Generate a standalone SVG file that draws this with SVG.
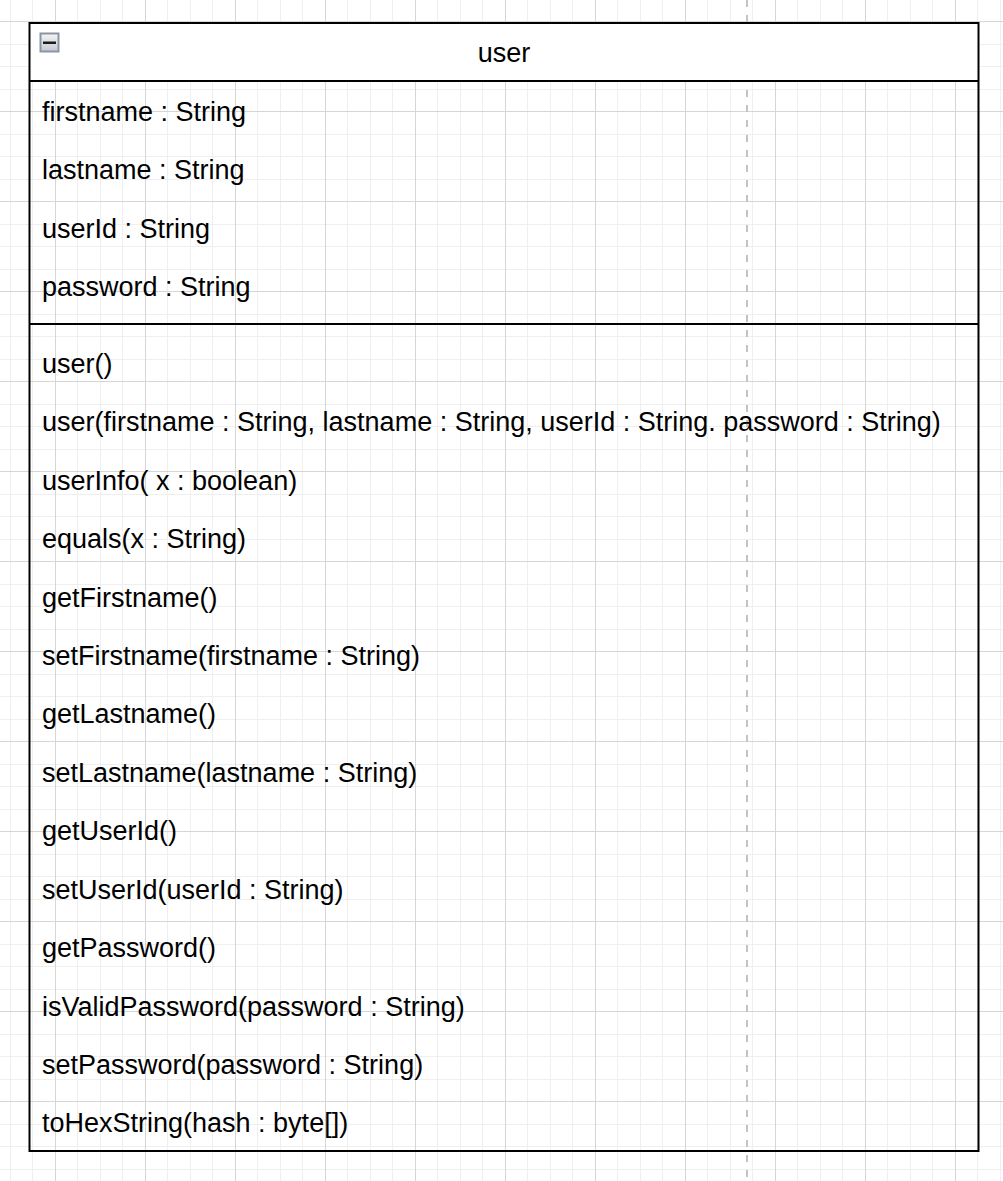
<svg xmlns="http://www.w3.org/2000/svg" width="1003" height="1181" viewBox="0 0 1003 1181">
  <defs>
    <pattern id="grid" patternUnits="userSpaceOnUse" x="55" y="21" width="90" height="90">
      <path d="M22.5 0V90M45.5 0V90M67.5 0V90M0 23.5H90M0 45.5H90M0 68.5H90" stroke="#efefef" stroke-width="1" fill="none"/>
      <path d="M0.5 0V90M0 0.5H90" stroke="#d6d6d6" stroke-width="1" fill="none"/>
    </pattern>
    <linearGradient id="iconFill" x1="0" y1="0" x2="0" y2="1">
      <stop offset="0" stop-color="#f4f5f7"/>
      <stop offset="1" stop-color="#c4c8cf"/>
    </linearGradient>
    <style>
      .t { font-family: "Liberation Sans", Arial, sans-serif; font-size: 27px; fill: #000; }
      .frame { fill: none; stroke: #000; stroke-width: 2; }
      .sep { stroke: #000; stroke-width: 2; }
    </style>
  </defs>
  <rect x="0" y="0" width="1003" height="1181" fill="#ffffff"/>
  <rect x="0" y="0" width="1003" height="1181" fill="url(#grid)"/>
  <line x1="747" y1="0" x2="747" y2="1181" stroke="#c3c3c3" stroke-width="2" stroke-dasharray="7 8"/>

  <g id="connectors"></g>

  <g id="user">
    <rect x="29.5" y="23" width="949" height="58" fill="#ffffff"/>
    <rect class="frame" x="29.5" y="23" width="949" height="1128"/>
    <line class="sep" x1="29.5" y1="81" x2="978.5" y2="81"/>
    <line class="sep" x1="29.5" y1="324" x2="978.5" y2="324"/>
    <g id="collapse-icon">
      <rect x="40.5" y="33.5" width="18" height="18" fill="url(#iconFill)" stroke="#8c95a3" stroke-width="2"/>
      <rect x="43" y="41.5" width="13" height="2.5" fill="#1a1a1a"/>
    </g>
    <text class="t" x="504" y="61.5" text-anchor="middle">user</text>
    <g id="attributes">
      <text class="t" x="42" y="120.8">firstname : String</text>
      <text class="t" x="42" y="179.3">lastname : String</text>
      <text class="t" x="42" y="237.8">userId : String</text>
      <text class="t" x="42" y="296.3">password : String</text>
    </g>
    <g id="methods">
      <text class="t" x="42" y="372.8">user()</text>
      <text class="t" x="42" y="431.2">user(firstname : String, lastname : String, userId : String. password : String)</text>
      <text class="t" x="42" y="489.7">userInfo( x : boolean)</text>
      <text class="t" x="42" y="548.1">equals(x : String)</text>
      <text class="t" x="42" y="606.5">getFirstname()</text>
      <text class="t" x="42" y="665.0">setFirstname(firstname : String)</text>
      <text class="t" x="42" y="723.4">getLastname()</text>
      <text class="t" x="42" y="781.8">setLastname(lastname : String)</text>
      <text class="t" x="42" y="840.2">getUserId()</text>
      <text class="t" x="42" y="898.7">setUserId(userId : String)</text>
      <text class="t" x="42" y="957.1">getPassword()</text>
      <text class="t" x="42" y="1015.5">isValidPassword(password : String)</text>
      <text class="t" x="42" y="1074.0">setPassword(password : String)</text>
      <text class="t" x="42" y="1132.4">toHexString(hash : byte[])</text>
    </g>
  </g>
</svg>
